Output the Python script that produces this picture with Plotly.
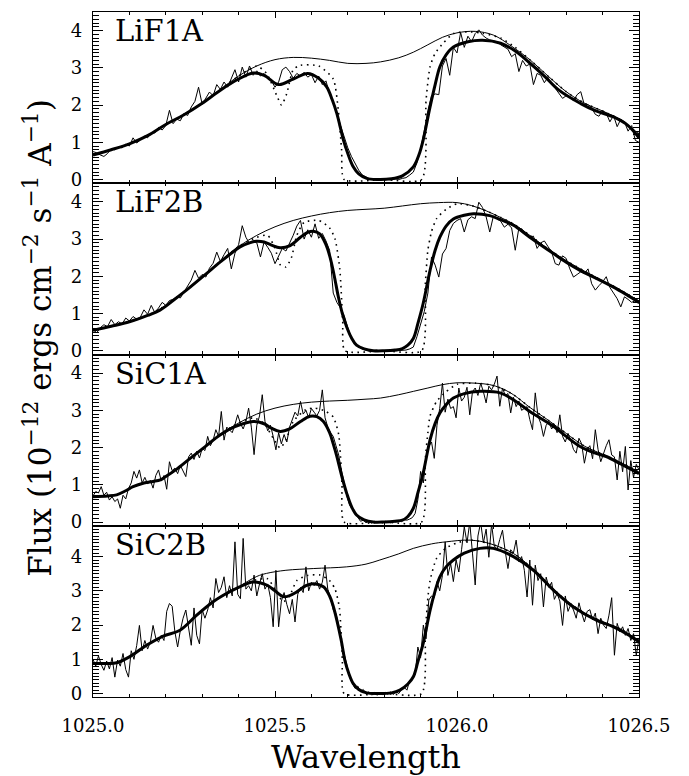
import numpy as np
import plotly.graph_objects as go
from plotly.subplots import make_subplots

# ---------------- data ----------------
panel_names = ["LiF1A", "LiF2B", "SiC1A", "SiC2B"]
x_ticks = [1025.0, 1025.5, 1026.0, 1026.5]
x_tick_labels = ["1025.0", "1025.5", "1026.0", "1026.5"]
y_ranges = [[-0.1, 4.5], [-0.1, 4.5], [-0.1, 4.5], [-0.1, 4.9]]

lif_start, lif_step, lif_n = 1025.0, 0.01, 151
sic_start, sic_step, sic_n = 1025.0, 0.0075, 201

# observed spectra (thin noisy lines)
lif1a_flux = [0.75,0.72,0.66,0.62,0.70,0.83,0.80,0.88,0.85,0.95,
 0.90,1.12,0.98,1.06,1.17,1.12,1.26,1.25,1.40,1.33,
 1.45,1.86,1.50,1.62,1.58,1.78,1.72,1.95,2.10,2.48,
 2.02,2.20,2.35,2.25,2.55,2.42,2.62,2.48,2.70,2.95,
 2.62,3.02,2.75,3.05,2.80,2.92,2.78,2.85,2.72,2.65,
 2.48,2.62,2.95,3.02,2.90,2.72,2.85,2.78,2.88,2.75,
 2.82,2.60,2.78,2.55,2.65,2.30,2.05,1.80,1.45,1.15,
 0.85,0.62,0.42,0.25,0.12,0.06,0.02,-0.01,0.00,-0.02,
 0.01,0.00,-0.01,0.02,0.00,0.03,0.05,0.12,0.20,0.45,
 0.82,1.30,1.85,2.25,2.30,2.28,3.05,3.25,2.80,3.55,
 3.40,3.95,3.55,3.85,3.70,3.92,4.02,3.88,3.80,3.75,
 3.72,3.70,3.62,3.55,3.50,3.30,3.38,2.90,3.20,3.05,
 3.10,2.55,2.85,2.80,2.60,2.75,2.55,2.45,2.30,2.18,
 2.25,2.20,2.12,2.28,2.36,2.00,2.02,1.92,1.75,1.70,
 1.85,1.78,1.55,1.72,1.42,1.62,1.55,1.30,1.45,1.05,
 1.00]

lif2b_flux = [0.58,0.48,0.62,0.70,0.65,0.84,0.70,0.78,0.72,0.88,
 0.80,0.92,0.85,0.90,1.10,0.98,1.22,1.02,1.15,1.30,
 1.22,1.35,1.38,1.45,1.42,1.58,1.72,1.90,2.16,1.95,
 2.05,1.98,2.22,2.35,2.65,2.40,2.58,2.75,2.20,2.62,
 2.85,3.36,3.05,2.88,2.95,2.90,2.52,2.92,2.78,2.62,
 2.34,2.55,2.75,2.68,2.88,3.10,3.35,3.50,3.00,3.25,
 3.05,3.41,3.02,3.15,2.95,2.70,1.55,1.30,1.15,0.95,
 0.62,0.35,0.18,0.10,0.04,0.02,-0.01,0.00,0.02,-0.02,
 0.00,0.01,-0.01,0.00,0.01,0.00,0.02,0.05,0.10,0.38,
 0.72,1.05,1.55,2.52,2.30,1.98,2.60,2.75,3.23,3.42,
 3.50,3.55,3.19,3.52,3.60,3.55,3.99,3.85,3.60,3.19,
 3.62,3.55,3.48,3.32,3.40,3.30,2.70,3.30,3.25,3.14,
 3.05,3.08,2.75,2.90,2.95,2.80,2.65,2.34,2.30,2.55,
 2.48,2.20,1.98,2.05,2.12,2.08,2.20,1.80,1.63,1.75,
 1.85,1.99,1.70,1.55,1.40,1.18,1.45,1.38,1.30,1.35,
 1.27]

sic1a_flux = [0.70,0.82,0.78,0.95,0.72,0.80,0.59,0.68,0.55,0.62,
 0.37,0.72,0.62,0.90,1.05,1.36,1.18,1.40,1.05,1.20,
 1.02,1.12,0.91,1.25,1.40,1.10,1.25,0.88,1.62,1.38,
 1.45,1.30,1.52,1.35,1.22,1.75,1.85,1.68,1.90,1.72,
 1.98,1.92,2.30,2.05,2.20,2.48,2.30,2.97,2.20,2.55,
 2.48,2.40,2.62,2.88,2.65,2.50,2.70,3.06,2.55,1.81,
 2.60,2.85,3.42,2.70,2.45,2.60,2.30,1.94,2.40,2.10,
 2.35,2.15,2.55,2.75,2.95,2.85,3.24,2.90,3.00,2.80,
 3.05,2.95,2.85,3.00,3.55,2.80,2.55,2.40,2.30,2.05,
 1.80,1.40,1.05,0.70,0.45,0.35,0.22,0.12,0.02,0.05,
 -0.02,0.03,-0.03,0.02,-0.02,0.01,-0.03,0.02,0.00,-0.02,
 0.03,0.00,0.04,0.01,0.06,0.05,0.08,0.12,0.23,0.60,
 1.36,1.05,1.75,2.03,2.15,1.71,2.60,3.05,3.73,2.95,
 3.30,3.05,3.10,2.80,3.60,3.25,3.35,3.62,2.88,3.50,
 3.60,3.40,3.73,3.50,3.20,3.65,3.55,3.70,3.92,3.11,
 3.60,3.40,3.45,2.93,3.35,3.10,3.25,3.00,3.05,3.10,
 2.75,2.48,3.47,2.85,2.65,2.30,2.60,2.70,2.50,2.62,
 2.40,2.88,2.30,2.15,2.38,2.20,1.95,1.85,2.25,2.10,
 1.58,1.95,2.05,1.70,2.48,1.95,1.62,1.85,2.05,2.21,
 1.80,1.75,1.13,1.90,1.35,2.03,0.86,1.65,1.20,1.55,
 1.40]

sic2b_flux = [1.00,0.80,1.10,0.85,0.68,0.95,0.72,1.05,0.48,0.98,
 0.80,1.17,0.70,0.48,1.25,1.00,1.40,1.99,1.25,1.55,
 1.30,1.50,1.99,1.62,1.50,1.70,1.55,2.40,2.63,2.55,
 1.80,1.36,1.85,2.20,2.44,1.90,1.41,2.50,1.70,1.45,
 2.45,2.20,2.44,2.80,2.50,3.36,2.95,3.10,3.41,2.80,
 3.15,2.85,4.43,2.90,2.77,4.53,3.05,3.15,3.00,3.46,
 2.85,3.20,3.50,3.05,3.20,2.80,1.95,3.60,1.95,2.70,
 2.95,2.60,2.33,2.75,2.09,2.90,3.10,2.95,3.70,3.00,
 3.25,3.15,3.30,3.05,3.25,3.75,3.05,2.80,2.45,2.33,
 2.00,1.50,1.15,0.82,0.48,0.30,0.15,0.22,0.05,0.12,
 -0.02,0.05,-0.04,0.03,-0.05,0.02,-0.03,0.04,-0.02,0.05,
 -0.03,0.06,0.00,0.12,0.18,0.10,0.39,0.45,0.55,1.36,
 1.05,2.00,1.60,2.73,2.85,2.80,3.27,3.00,3.45,4.43,
 3.45,3.80,3.27,3.90,3.55,4.20,4.87,4.40,5.00,4.10,
 3.17,4.60,5.00,4.40,4.80,3.98,4.95,4.30,4.20,4.50,
 4.77,4.15,3.65,4.20,4.10,4.48,3.85,4.00,3.60,2.82,
 3.90,2.58,3.75,3.30,3.50,2.53,3.40,3.10,3.25,2.75,
 2.92,2.70,1.99,2.85,2.40,2.60,2.44,2.20,2.65,2.35,
 2.09,2.40,2.45,2.15,2.35,1.75,2.20,2.00,1.90,2.29,
 2.80,1.12,2.05,1.80,1.95,1.70,1.90,1.55,1.75,1.12,
 1.60]

# fitted model (thick lines)
lif1a_model_w = [1025.00,1025.05,1025.10,1025.15,1025.20,1025.25,1025.30,1025.35,1025.40,1025.44,
 1025.47,1025.51,1025.55,1025.59,1025.62,1025.642,1025.657,1025.670,1025.688,1025.70,
 1025.715,1025.73,1025.752,1025.78,1025.82,1025.85,1025.88,1025.895,1025.907,1025.926,
 1025.94,1025.953,1025.97,1025.99,1026.03,1026.07,1026.12,1026.16,1026.20,1026.24,
 1026.28,1026.34,1026.38,1026.43,1026.47,1026.50]
lif1a_model_f = [0.66,0.80,0.96,1.18,1.48,1.74,2.05,2.40,2.70,2.86,
 2.80,2.55,2.70,2.85,2.72,2.49,2.15,1.77,1.06,0.70,
 0.34,0.15,0.03,0.00,0.02,0.10,0.34,0.65,1.06,1.95,
 2.55,3.03,3.35,3.56,3.70,3.74,3.66,3.45,3.13,2.78,
 2.40,2.04,1.85,1.68,1.45,1.12]

lif2b_model_w = [1025.00,1025.05,1025.10,1025.15,1025.184,1025.22,1025.267,1025.31,1025.349,1025.38,
 1025.404,1025.43,1025.449,1025.47,1025.49,1025.514,1025.54,1025.57,1025.59,1025.605,
 1025.623,1025.64,1025.651,1025.662,1025.674,1025.685,1025.697,1025.71,1025.724,1025.745,
 1025.77,1025.80,1025.83,1025.85,1025.865,1025.88,1025.893,1025.907,1025.926,1025.94,
 1025.953,1025.97,1025.99,1026.02,1026.045,1026.09,1026.12,1026.155,1026.20,1026.265,
 1026.30,1026.338,1026.38,1026.43,1026.47,1026.50]
lif2b_model_f = [0.55,0.66,0.78,0.95,1.09,1.35,1.71,2.06,2.38,2.62,
 2.79,2.90,2.94,2.92,2.84,2.77,2.82,3.05,3.18,3.21,
 3.14,2.85,2.52,2.05,1.45,1.00,0.64,0.35,0.15,0.05,
 0.00,0.00,0.02,0.06,0.15,0.33,0.75,1.27,2.16,2.70,
 3.05,3.35,3.54,3.64,3.68,3.63,3.52,3.37,3.05,2.61,
 2.38,2.16,1.96,1.71,1.48,1.30]

sic1a_model_w = [1025.00,1025.04,1025.065,1025.09,1025.11,1025.14,1025.165,1025.185,1025.20,1025.23,
 1025.267,1025.31,1025.349,1025.39,1025.44,1025.47,1025.49,1025.514,1025.54,1025.57,
 1025.596,1025.615,1025.633,1025.65,1025.66,1025.67,1025.683,1025.697,1025.71,1025.724,
 1025.745,1025.77,1025.80,1025.83,1025.85,1025.865,1025.88,1025.893,1025.907,1025.926,
 1025.94,1025.953,1025.97,1025.99,1026.02,1026.063,1026.118,1026.16,1026.20,1026.265,
 1026.30,1026.338,1026.38,1026.41,1026.45,1026.50]
sic1a_model_f = [0.68,0.70,0.73,0.84,0.95,1.05,1.09,1.13,1.22,1.42,
 1.71,2.04,2.34,2.56,2.70,2.64,2.52,2.43,2.50,2.70,
 2.84,2.83,2.70,2.40,2.10,1.76,1.25,0.77,0.42,0.19,
 0.06,0.00,0.00,0.02,0.05,0.15,0.37,0.80,1.31,2.21,
 2.65,2.93,3.15,3.33,3.45,3.51,3.47,3.25,2.97,2.57,
 2.30,2.03,1.85,1.76,1.56,1.30]

sic2b_model_w = [1025.00,1025.04,1025.065,1025.10,1025.147,1025.193,1025.239,1025.285,1025.33,1025.358,
 1025.40,1025.44,1025.477,1025.50,1025.523,1025.54,1025.56,1025.585,1025.605,1025.633,
 1025.65,1025.66,1025.67,1025.682,1025.692,1025.703,1025.715,1025.73,1025.752,1025.78,
 1025.82,1025.843,1025.865,1025.88,1025.893,1025.907,1025.926,1025.94,1025.953,1025.97,
 1025.99,1026.02,1026.063,1026.10,1026.155,1026.21,1026.265,1026.32,1026.384,1026.43,
 1026.47,1026.50]
sic2b_model_f = [0.88,0.88,0.90,1.07,1.41,1.68,1.85,2.29,2.68,2.87,
 3.10,3.26,3.17,3.00,2.83,2.86,2.97,3.15,3.21,3.12,
 2.85,2.55,2.14,1.55,0.97,0.58,0.29,0.12,0.02,0.00,
 0.02,0.10,0.28,0.49,0.95,1.46,2.43,3.00,3.41,3.70,
 3.90,4.10,4.24,4.24,4.00,3.60,3.02,2.53,2.14,1.95,
 1.72,1.51]

# unabsorbed continuum (thin smooth lines)
lif1a_cont_w = [1025.00,1025.05,1025.10,1025.15,1025.20,1025.25,1025.30,1025.35,1025.40,1025.45,
 1025.50,1025.55,1025.60,1025.65,1025.70,1025.75,1025.79,1025.84,1025.88,1025.92,
 1025.96,1026.00,1026.05,1026.10,1026.15,1026.20,1026.25,1026.30,1026.35,1026.40,
 1026.45,1026.50]
lif1a_cont_f = [0.66,0.80,0.96,1.18,1.48,1.74,2.05,2.42,2.78,3.05,
 3.22,3.28,3.26,3.20,3.12,3.12,3.16,3.27,3.42,3.62,
 3.82,3.94,3.98,3.88,3.58,3.22,2.78,2.36,2.05,1.84,
 1.60,1.22]

lif2b_cont_w = [1025.00,1025.05,1025.10,1025.15,1025.20,1025.25,1025.30,1025.35,1025.40,1025.45,
 1025.50,1025.55,1025.60,1025.65,1025.70,1025.75,1025.80,1025.85,1025.90,1025.95,
 1026.00,1026.04,1026.08,1026.12,1026.16,1026.20,1026.25,1026.30,1026.35,1026.40,
 1026.45,1026.50]
lif2b_cont_f = [0.55,0.66,0.78,0.95,1.22,1.58,1.98,2.40,2.80,3.10,
 3.33,3.50,3.62,3.71,3.77,3.80,3.83,3.89,3.95,3.98,
 3.98,3.90,3.76,3.58,3.38,3.10,2.74,2.42,2.14,1.88,
 1.63,1.34]

sic1a_cont_w = [1025.00,1025.04,1025.065,1025.09,1025.11,1025.14,1025.165,1025.185,1025.20,1025.23,
 1025.267,1025.31,1025.35,1025.40,1025.45,1025.50,1025.55,1025.60,1025.65,1025.70,
 1025.75,1025.79,1025.84,1025.88,1025.92,1025.96,1026.00,1026.05,1026.09,1026.12,
 1026.155,1026.20,1026.25,1026.30,1026.35,1026.40,1026.45,1026.50]
sic1a_cont_f = [0.68,0.70,0.73,0.84,0.95,1.05,1.09,1.13,1.22,1.42,
 1.71,2.04,2.36,2.66,2.90,3.06,3.16,3.22,3.25,3.27,
 3.30,3.33,3.42,3.51,3.60,3.69,3.74,3.73,3.69,3.60,
 3.42,3.08,2.74,2.38,2.04,1.82,1.60,1.34]

sic2b_cont_w = [1025.00,1025.04,1025.065,1025.10,1025.147,1025.193,1025.239,1025.285,1025.33,1025.358,
 1025.40,1025.45,1025.477,1025.53,1025.605,1025.697,1025.75,1025.788,1025.84,1025.88,
 1025.93,1025.97,1026.036,1026.09,1026.155,1026.20,1026.25,1026.30,1026.35,1026.40,
 1026.45,1026.50]
sic2b_cont_f = [0.88,0.88,0.90,1.07,1.41,1.68,1.85,2.29,2.68,2.87,
 3.12,3.42,3.51,3.60,3.65,3.70,3.78,3.90,4.08,4.24,
 4.37,4.43,4.48,4.38,4.09,3.72,3.20,2.72,2.35,2.10,
 1.88,1.55]

# intrinsic absorption model (dotted lines)
lif1a_dot_w = [1025.00,1025.05,1025.10,1025.15,1025.20,1025.25,1025.30,1025.35,1025.40,1025.45,
 1025.477,1025.505,1025.518,1025.532,1025.55,1025.57,1025.62,1025.66,1025.674,1025.683,
 1025.69,1025.80,1025.903,1025.915,1025.926,1025.94,1025.962,1025.99,1026.03,1026.07,
 1026.12,1026.16,1026.20,1026.25,1026.30,1026.35,1026.40,1026.45,1026.50]
lif1a_dot_f = [0.66,0.80,0.96,1.18,1.48,1.74,2.05,2.42,2.78,3.05,
 2.85,2.25,2.00,2.30,2.95,3.07,3.05,2.70,1.85,0.80,
 0.00,0.00,0.00,2.13,3.03,3.39,3.66,3.92,3.97,3.93,
 3.80,3.55,3.22,2.78,2.36,2.05,1.84,1.60,1.22]

lif2b_dot_w = [1025.00,1025.05,1025.10,1025.15,1025.20,1025.25,1025.30,1025.35,1025.40,1025.45,
 1025.48,1025.50,1025.515,1025.53,1025.545,1025.56,1025.58,1025.62,1025.65,1025.665,
 1025.678,1025.686,1025.692,1025.80,1025.903,1025.913,1025.92,1025.93,1025.944,1025.97,
 1026.00,1026.04,1026.08,1026.12,1026.16,1026.20,1026.25,1026.30,1026.35,1026.40,
 1026.45,1026.50]
lif2b_dot_f = [0.55,0.66,0.78,0.95,1.22,1.58,1.98,2.40,2.80,3.05,
 3.10,2.75,2.30,2.25,2.50,3.10,3.45,3.50,3.30,3.00,
 2.20,0.80,0.00,0.00,0.00,1.80,2.70,3.20,3.55,3.80,
 3.95,3.90,3.76,3.58,3.38,3.10,2.74,2.42,2.14,1.88,
 1.63,1.34]

sic1a_dot_w = [1025.00,1025.04,1025.065,1025.09,1025.11,1025.14,1025.165,1025.185,1025.20,1025.23,
 1025.267,1025.31,1025.35,1025.40,1025.44,1025.47,1025.495,1025.514,1025.53,1025.55,
 1025.585,1025.61,1025.64,1025.66,1025.675,1025.684,1025.69,1025.80,1025.903,1025.913,
 1025.92,1025.926,1025.944,1025.97,1026.00,1026.05,1026.09,1026.12,1026.155,1026.20,
 1026.25,1026.30,1026.35,1026.40,1026.45,1026.50]
sic1a_dot_f = [0.68,0.70,0.73,0.84,0.95,1.05,1.09,1.13,1.22,1.42,
 1.71,2.04,2.36,2.66,2.80,2.65,2.25,1.99,2.20,2.70,
 3.02,3.06,2.97,2.82,2.35,1.00,0.00,0.00,0.00,1.70,
 2.40,2.85,3.24,3.50,3.70,3.73,3.69,3.60,3.42,3.08,
 2.74,2.38,2.04,1.82,1.60,1.34]

sic2b_dot_w = [1025.00,1025.04,1025.065,1025.10,1025.147,1025.193,1025.239,1025.285,1025.33,1025.358,
 1025.40,1025.44,1025.48,1025.505,1025.523,1025.54,1025.56,1025.59,1025.624,1025.65,
 1025.665,1025.677,1025.685,1025.69,1025.80,1025.903,1025.913,1025.92,1025.926,1025.944,
 1025.97,1026.00,1026.036,1026.09,1026.155,1026.20,1026.25,1026.30,1026.35,1026.40,
 1026.45,1026.50]
sic2b_dot_f = [0.88,0.88,0.90,1.07,1.41,1.68,1.85,2.29,2.68,2.87,
 3.12,3.30,3.35,2.95,2.68,2.85,3.30,3.45,3.46,3.30,
 3.05,2.50,1.00,0.00,0.00,0.00,1.80,2.80,3.30,3.95,
 4.25,4.40,4.48,4.38,4.09,3.72,3.20,2.72,2.35,2.10,
 1.88,1.55]

# ---------------- figure ----------------
lif_w = np.round(lif_start + lif_step * np.arange(lif_n), 4)
sic_w = np.round(sic_start + sic_step * np.arange(sic_n), 4)

panels = [
    (lif_w, lif1a_flux, lif1a_model_w, lif1a_model_f, lif1a_cont_w, lif1a_cont_f, lif1a_dot_w, lif1a_dot_f),
    (lif_w, lif2b_flux, lif2b_model_w, lif2b_model_f, lif2b_cont_w, lif2b_cont_f, lif2b_dot_w, lif2b_dot_f),
    (sic_w, sic1a_flux, sic1a_model_w, sic1a_model_f, sic1a_cont_w, sic1a_cont_f, sic1a_dot_w, sic1a_dot_f),
    (sic_w, sic2b_flux, sic2b_model_w, sic2b_model_f, sic2b_cont_w, sic2b_cont_f, sic2b_dot_w, sic2b_dot_f),
]

fig = make_subplots(rows=4, cols=1, shared_xaxes=True, vertical_spacing=0)

FONT = "DejaVu Serif"
for i, (dw, df, mw, mf, cw, cf, ow, of) in enumerate(panels):
    r = i + 1
    fig.add_trace(go.Scatter(x=dw, y=df, mode="lines",
                             line=dict(color="black", width=1), showlegend=False), row=r, col=1)
    fig.add_trace(go.Scatter(x=cw, y=cf, mode="lines",
                             line=dict(color="black", width=1, shape="spline", smoothing=1.0),
                             showlegend=False), row=r, col=1)
    fig.add_trace(go.Scatter(x=ow, y=of, mode="lines",
                             line=dict(color="black", width=1.6, dash="1.6px,4.4px",
                                       shape="spline", smoothing=0.6),
                             showlegend=False), row=r, col=1)
    fig.add_trace(go.Scatter(x=mw, y=mf, mode="lines",
                             line=dict(color="black", width=3, shape="spline", smoothing=1.0),
                             showlegend=False), row=r, col=1)

    fig.update_yaxes(row=r, col=1, range=y_ranges[i], tick0=0, dtick=1,
                     ticks="inside", ticklen=10, tickwidth=1, tickcolor="black",
                     minor=dict(ticks="inside", ticklen=6, dtick=0.1, tick0=0,
                                tickcolor="black", tickwidth=1, showgrid=False),
                     showline=True, linecolor="black", linewidth=1.2, mirror="allticks",
                     showgrid=False, zeroline=False, ticklabelstandoff=6,
                     tickfont=dict(family=FONT, size=18, color="black"))
    fig.update_xaxes(row=r, col=1, range=[1025.0, 1026.5],
                     tickvals=x_ticks, ticktext=x_tick_labels,
                     ticks="inside", ticklen=6, tickwidth=1, tickcolor="black",
                     minor=dict(ticks="inside", ticklen=3, dtick=0.1, tick0=1025.0,
                                tickcolor="black", tickwidth=1, showgrid=False),
                     showline=True, linecolor="black", linewidth=1.2, mirror="allticks",
                     showgrid=False, zeroline=False,
                     showticklabels=(r == 4), ticklabelstandoff=12,
                     tickfont=dict(family=FONT, size=18, color="black"))

    dom = fig.layout["yaxis" if r == 1 else f"yaxis{r}"].domain
    fig.add_annotation(x=0.036, y=dom[1], xref="paper", yref="paper",
                       xanchor="left", yanchor="top", text=panel_names[i],
                       showarrow=False, yshift=0,
                       font=dict(family=FONT, size=29, color="black"))

fig.add_annotation(x=0.5, y=-0.088, xref="paper", yref="paper",
                   xanchor="center", yanchor="middle", text="Wavelength", showarrow=False,
                   font=dict(family=FONT, size=32, color="black"))
fig.add_annotation(x=-0.10, y=0.525, xref="paper", yref="paper",
                   xanchor="center", yanchor="middle", textangle=-90,
                   text="Flux (10<sup>\u221212</sup> ergs cm<sup>\u22122</sup> s<sup>\u22121</sup> A<sup>\u22121</sup>)",
                   showarrow=False, font=dict(family=FONT, size=31, color="black"))

fig.update_layout(width=689, height=776, margin=dict(l=93, r=50, t=12, b=79),
                  plot_bgcolor="white", paper_bgcolor="white")

fig.write_html("out.html")
